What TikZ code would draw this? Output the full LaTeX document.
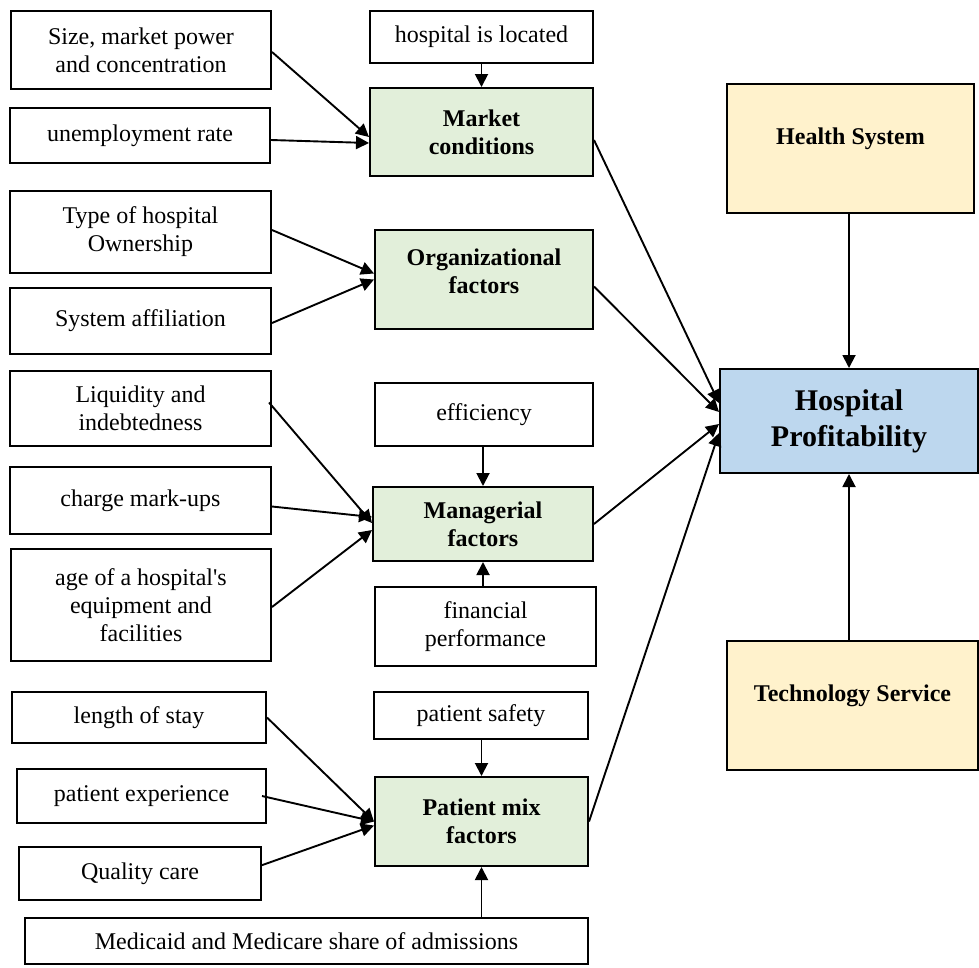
\documentclass[tikz,border=0pt]{standalone}
\usepackage{fontspec}
\setmainfont{Liberation Serif}[Ligatures=TeXOff]
\usetikzlibrary{arrows.meta}
\definecolor{gfill}{RGB}{226,239,218}
\definecolor{bfill}{RGB}{189,215,238}
\definecolor{yfill}{RGB}{255,242,204}
\tikzset{
  box/.style={draw=black, line width=2pt, rectangle, inner sep=0pt, align=center,
    font=\fontsize{24}{28}\selectfont},
  gbox/.style={box, fill=gfill, font=\fontsize{24}{28}\selectfont\bfseries},
  ybox/.style={box, fill=yfill},
  bfont/.style={font=\fontsize{24}{28}\selectfont\bfseries},
  arr/.style={line width=1.9pt, -{Triangle[length=13pt,width=13pt]}},
}
\begin{document}
\begin{tikzpicture}[x=1pt,y=-1pt]
\useasboundingbox (0,0) rectangle (979,967);
% left column
\node[box, minimum width=260pt, minimum height=78pt] (size) at (141,50) {Size, market power\\and concentration};
\node[box, minimum width=260pt, minimum height=55pt] (unemp) at (140,135.5) {unemployment rate};
\node[box, minimum width=261pt, minimum height=82pt] (type) at (140.5,232) {Type of hospital\\Ownership};
\node[box, minimum width=261pt, minimum height=66pt] (sys) at (140.5,321) {System affiliation};
\node[box, minimum width=261pt, minimum height=75pt] (liq) at (140.5,408.5) {Liquidity and\\indebtedness};
\node[box, minimum width=261pt, minimum height=67pt] (chg) at (140.5,500.5) {charge mark-ups};
\node[box, minimum width=260pt, minimum height=112pt] (age) at (141,605) {age of a hospital's\\equipment and\\facilities};
\node[box, minimum width=254pt, minimum height=51pt] (len) at (139,717.5) {length of stay};
\node[box, minimum width=249pt, minimum height=54pt] (pexp) at (141.5,796) {patient experience};
\node[box, minimum width=242pt, minimum height=53pt] (qual) at (140,873.5) {Quality care};
\node[box, minimum width=563pt, minimum height=46pt] (med) at (306.5,941) {Medicaid and Medicare share of admissions};
% middle column
\node[box, minimum width=223pt, minimum height=52pt] (hosp) at (481.5,37) {hospital is located};
\node[gbox, minimum width=223pt, minimum height=88pt] (mkt) at (481.5,132) {Market\\conditions};
\node[gbox, minimum width=218pt, minimum height=99pt,
  label={[name=orgt, bfont, align=center, yshift=8pt]center:{Organizational\\factors}}] (org) at (484,279.5) {};
\node[box, minimum width=218pt, minimum height=63pt] (eff) at (484,414.5) {efficiency};
\node[gbox, minimum width=220pt, minimum height=74pt] (man) at (483,524) {Managerial\\factors};
\node[box, minimum width=221pt, minimum height=79pt] (fin) at (485.5,626.5) {financial\\performance};
\node[box, minimum width=214pt, minimum height=47pt] (saf) at (481,715.5) {patient safety};
\node[gbox, minimum width=213pt, minimum height=89pt] (pm) at (481.5,821.5) {Patient mix\\factors};
% right column
\node[ybox, minimum width=247pt, minimum height=129pt,
  label={[name=hst, bfont, yshift=10pt]center:Health System}] (hs) at (850.5,148.5) {};
\node[box, fill=bfill, minimum width=258pt, minimum height=104pt,
  font=\fontsize{30}{36}\selectfont\bfseries] (hp) at (849,421) {Hospital\\Profitability};
\node[ybox, minimum width=251pt, minimum height=129pt,
  label={[name=tst, bfont, yshift=10pt]center:Technology Service}] (ts) at (852.5,705.5) {};
% connectors: market conditions
\draw[arr] (hosp.south -| mkt.north) -- (mkt.north);
\draw[arr] ([yshift=-2pt]size.east) -- ([yshift=-5pt]mkt.west);
\draw[arr] ([yshift=-4.5pt]unemp.east) -- ([yshift=-11pt]mkt.west);
% organizational
\draw[arr] ([yshift=2pt]type.east) -- ([yshift=6pt]org.west);
\draw[arr] ([yshift=-2pt]sys.east) -- (org.west);
% managerial
\draw[arr] ([yshift=6pt,xshift=-3pt]liq.east) -- ([yshift=1pt]man.west);
\draw[arr] ([yshift=-6pt]chg.east) -- ([yshift=7pt]man.west);
\draw[arr] ([yshift=-2pt]age.east) -- ([yshift=-6pt]man.west);
\draw[arr] (eff.south -| man.north) -- (man.north);
\draw[arr] (fin.north -| man.south) -- (man.south);
% patient mix
\draw[arr] (len.east) -- (pm.west);
\draw[arr] ([xshift=-5pt]pexp.east) -- (pm.west);
\draw[arr] ([yshift=8pt,xshift=-1pt]qual.east) -- ([yshift=-4pt]pm.west);
\draw[arr] (saf.south -| pm.north) -- (pm.north);
\draw[arr] (med.north -| pm.south) -- (pm.south);
% to hospital profitability
\draw[arr] ([yshift=-8pt]mkt.east) -- ([yshift=18pt]hp.west);
\draw[arr] ([yshift=-7pt]org.east) -- ([yshift=9pt]hp.west);
\draw[arr] (man.east) -- ([yshift=-3pt]hp.west);
\draw[arr] (pm.east) -- ([yshift=-12pt]hp.west);
\draw[arr] (hs.south -| hp.north) -- (hp.north);
\draw[arr] (ts.north -| hp.south) -- (hp.south);
\end{tikzpicture}
\end{document}
